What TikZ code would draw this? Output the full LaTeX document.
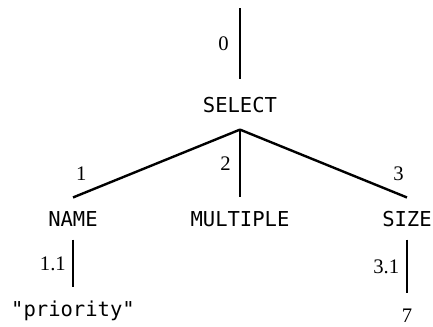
\documentclass[tikz,border=0pt]{standalone}
\usepackage{fontspec}
\setmainfont{Liberation Serif}
\setmonofont{DejaVu Sans Mono}
\usetikzlibrary{positioning}
\tikzset{
    term/.style={font=\ttfamily\fontsize{15.4}{18}\selectfont, anchor=base, text height=11.2pt, text depth=0pt, inner xsep=0pt, inner ysep=10pt},
    leaf/.style={term, font=\fontsize{15.5}{18}\selectfont},
    branch/.style={line width=1.8pt},
    num/.style={font=\fontsize{15.5}{18}\selectfont, inner sep=0pt}
}

\begin{document}
\begin{tikzpicture}[x=0.75pt, y=-0.75pt]
    \useasboundingbox (0,0) rectangle (433,326);

    % --- Root ---
    \coordinate (root) at (240,8);
    \node (select) [term, inner ysep=13pt] at (240,112) {SELECT};

    % --- Children ---
    \node (name) [term] at (73,226) {NAME};
    \node (multiple) [term] at (240,226) {MULTIPLE};
    \node (size) [term] at (407,226) {SIZE};

    % --- Leaves ---
    \node (prio) [term] at (73,316) {"priority"};
    \node (seven) [leaf] at (407,322) {7};

    % --- Branches ---
    \draw [branch] (root) -- node[num, left=7.5pt] {0} (select.north);
    \draw [branch] (select.south) -- node[num, pos=0.95, above=9pt] {1} (name.north);
    \draw [branch] (select.south) -- node[num, left=6pt] {2} (multiple.north);
    \draw [branch] (select.south) -- node[num, pos=0.95, above=9pt] {3} (size.north);
    \draw [branch] (name.south) -- node[num, left=4.5pt] {1.1} (prio.north);
    \draw [branch] (size.south) -- node[num, left=5pt] {3.1} (seven.north);
\end{tikzpicture}
\end{document}
